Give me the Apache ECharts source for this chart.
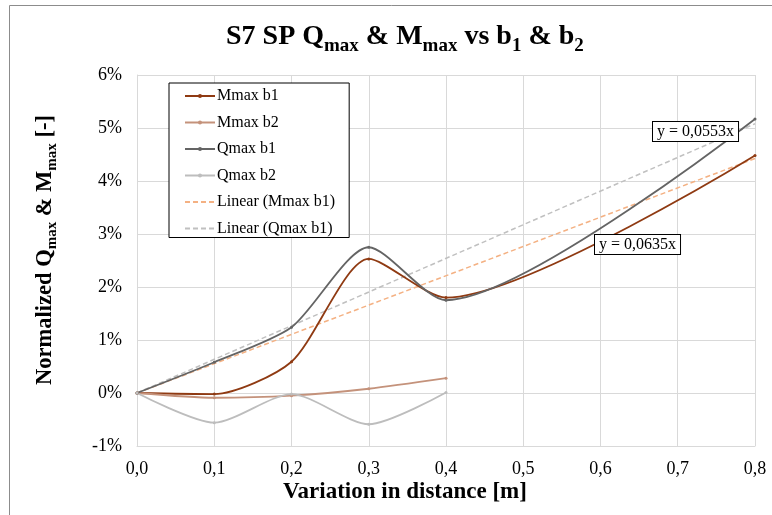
<!DOCTYPE html>
<html>
<head>
<meta charset="utf-8">
<script src="https://cdn.jsdelivr.net/npm/echarts@6/dist/echarts.min.js"></script>
<style>html,body{margin:0;padding:0;background:#fff}#c{width:772px;height:515px}</style>
</head>
<body>
<div id="c"></div>
<script>
// Data (values in %)
var xB1 = [0, 0.1, 0.2, 0.3, 0.4, 0.8];
var xB2 = [0, 0.1, 0.2, 0.3, 0.4];
var mmaxB1 = [0, -0.02, 0.59, 2.53, 1.80, 4.48];
var mmaxB2 = [0, -0.09, -0.05, 0.08, 0.28];
var qmaxB1 = [0, 0.58, 1.24, 2.75, 1.75, 5.17];
var qmaxB2 = [0, -0.56, -0.02, -0.59, 0.01];
var trendSlopeM = 5.53;   // % per m  (y = 0,0553x)
var trendSlopeQ = 6.35;   // % per m  (y = 0,0635x)
var trendX = [0, 0.8];
var xTicks = ['0,0','0,1','0,2','0,3','0,4','0,5','0,6','0,7','0,8'];
var seriesNames = ['Mmax b1','Mmax b2','Qmax b1','Qmax b2','Linear (Mmax b1)','Linear (Qmax b1)'];
var eqLabels = ['y = 0,0553x', 'y = 0,0635x'];

function pairs(xs, ys){ return xs.map(function(x,i){ return [x, ys[i]]; }); }

var serif = 'Liberation Serif';
var chart = echarts.init(document.getElementById('c'));
var lineSeries = function(name, xs, ys, color, w){
  return {
    name: name, type: 'line', data: pairs(xs, ys), smooth: 0.25,
    symbol: 'circle', symbolSize: 3, showSymbol: true,
    lineStyle: {color: color, width: w}, itemStyle: {color: color},
    emphasis: {disabled: true}, z: 3
  };
};
var trendSeries = function(name, slope, color){
  return {
    name: name, type: 'line', data: trendX.map(function(x){ return [x, slope * x]; }),
    symbol: 'none', lineStyle: {color: color, width: 1.5, type: [5, 3]},
    itemStyle: {color: color}, emphasis: {disabled: true}, z: 2
  };
};

chart.setOption({
  animation: false,
  backgroundColor: '#fff',
  title: {
    text: '{t|S7 SP Q}{s|max}{t| & M}{s|max}{t| vs b}{s|1}{t| & b}{s|2}',
    left: 221, top: 18,
    textStyle: {
      rich: {
        t: {fontFamily: serif, fontWeight: 'bold', fontSize: 28, color: '#000', lineHeight: 34, verticalAlign: 'top'},
        s: {fontFamily: serif, fontWeight: 'bold', fontSize: 19, color: '#000', lineHeight: 22, padding: [14, 0, 0, 0], verticalAlign: 'top'}
      }
    }
  },
  grid: {left: 137, right: 17, top: 75, bottom: 69, containLabel: false},
  xAxis: {
    type: 'value', min: 0, max: 0.8, interval: 0.1,
    axisLine: {show: true, onZero: false, lineStyle: {color: '#d9d9d9'}},
    axisTick: {show: false},
    axisLabel: {fontFamily: serif, fontSize: 18, color: '#000', margin: 14,
      formatter: function(v){ return xTicks[Math.round(v * 10)]; }},
    splitLine: {show: true, lineStyle: {color: '#d9d9d9', width: 1}}
  },
  yAxis: {
    type: 'value', min: -1, max: 6, interval: 1,
    axisLine: {show: true, lineStyle: {color: '#d9d9d9'}},
    axisTick: {show: false},
    axisLabel: {fontFamily: serif, fontSize: 18, color: '#000', margin: 15,
      formatter: function(v){ return Math.round(v) + '%'; }},
    splitLine: {show: true, lineStyle: {color: '#d9d9d9', width: 1}}
  },
  legend: {
    data: [
      seriesNames[0], seriesNames[1], seriesNames[2], seriesNames[3],
      {name: seriesNames[4], itemStyle: {opacity: 0}},
      {name: seriesNames[5], itemStyle: {opacity: 0}}
    ],
    orient: 'vertical', left: 169, top: 83,
    itemWidth: 30, itemHeight: 5, itemGap: 10.5,
    padding: [5, 14, 1, 15],
    backgroundColor: '#fff', borderColor: '#000', borderWidth: 1, borderRadius: 0,
    textStyle: {fontFamily: serif, fontSize: 16, color: '#000', padding: [0,0,0,-3]},
    selectedMode: false
  },
  graphic: [
    {type: 'rect', shape: {x: 9.5, y: 5.5, width: 900, height: 700}, style: {fill: null, stroke: '#8c8c8c', lineWidth: 1}, silent: true, z: -10},
    {type: 'text', x: 405, y: 492, silent: true,
      style: {text: 'Variation in distance [m]', font: 'bold 23px "Liberation Serif"', fill: '#000', align: 'center', verticalAlign: 'middle'}},
    {type: 'text', x: 47, y: 250, rotation: Math.PI / 2, silent: true,
      style: {text: '{t|Normalized Q}{s|max}{t| & M}{s|max}{t| [-]}', align: 'center', verticalAlign: 'middle',
        rich: {
          t: {fontFamily: serif, fontWeight: 'bold', fontSize: 22.5, fill: '#000', lineHeight: 27, verticalAlign: 'top'},
          s: {fontFamily: serif, fontWeight: 'bold', fontSize: 15, fill: '#000', lineHeight: 18, padding: [11, 0, 0, 0], verticalAlign: 'top'}
        }}},
    {type: 'text', left: 652, top: 121, z: 100,
      style: {text: eqLabels[0], font: '16px "Liberation Serif"', fill: '#000', backgroundColor: '#fff', borderColor: '#000', borderWidth: 1, padding: [2, 4, 1, 4]}},
    {type: 'text', left: 594, top: 234, z: 100,
      style: {text: eqLabels[1], font: '16px "Liberation Serif"', fill: '#000', backgroundColor: '#fff', borderColor: '#000', borderWidth: 1, padding: [2, 4, 1, 4]}}
  ],
  series: [
    lineSeries(seriesNames[0], xB1, mmaxB1, '#8f3a12', 1.8),
    lineSeries(seriesNames[1], xB2, mmaxB2, '#c4927b', 1.8),
    lineSeries(seriesNames[2], xB1, qmaxB1, '#646464', 1.8),
    lineSeries(seriesNames[3], xB2, qmaxB2, '#bdbdbd', 1.8),
    trendSeries(seriesNames[4], trendSlopeM, '#f4b183'),
    trendSeries(seriesNames[5], trendSlopeQ, '#c0c0c0')
  ]
});
</script>
</body>
</html>
